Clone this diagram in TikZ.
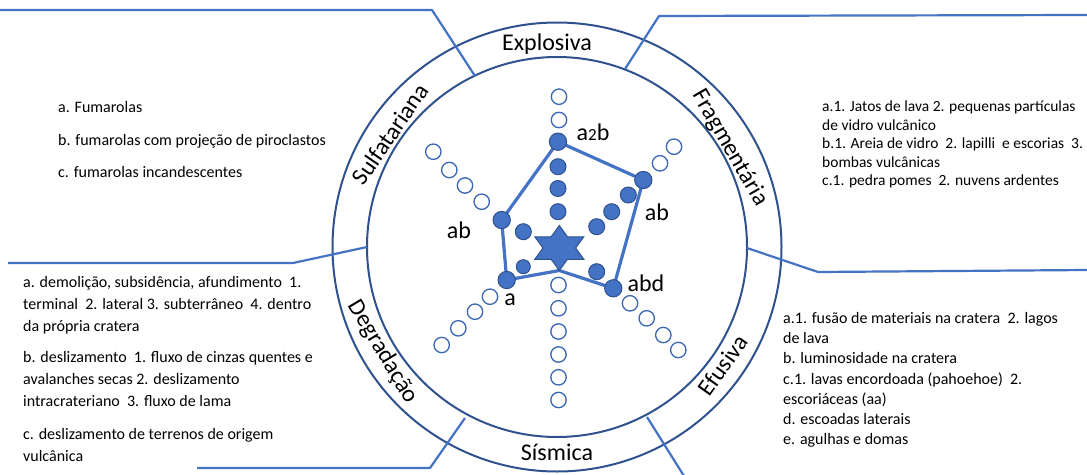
\documentclass[tikz,border=0pt]{standalone}
\usepackage{fontspec}
\setmainfont{Carlito}
\definecolor{ringblue}{HTML}{2F528F}
\definecolor{accent}{HTML}{4472C4}
\definecolor{hollowline}{HTML}{3A66B4}
\begin{document}
\begin{tikzpicture}[x=1pt,y=-1pt,
  ring/.style={draw=ringblue, line width=2pt},
  divider/.style={draw=accent, line width=2.2pt, line join=round},
  ringlabel/.style={font=\fontsize{24}{24}\selectfont, inner sep=0pt},
  ptlabel/.style={font=\fontsize{24}{24}\selectfont, inner sep=0pt},
  txt/.style={font=\fontsize{16}{20}\selectfont, inner sep=0pt, anchor=base west},
  txtr/.style={font=\fontsize{15.5}{20}\selectfont, inner sep=0pt, anchor=base west},
  vtx/.style={circle, fill=accent, draw=ringblue, line width=1pt, minimum size=17.3pt, inner sep=0pt},
  fdot/.style={circle, fill=accent, draw=ringblue, line width=1pt, minimum size=16pt, inner sep=0pt},
  hdot/.style={circle, fill=white, draw=hollowline, line width=1.3pt, minimum size=15.4pt, inner sep=0pt},
  poly/.style={draw=accent, line width=3.2pt, line join=round}
]
\useasboundingbox (0,0) rectangle (1087,474);

% ---------------- ring ----------------
\coordinate (c) at (557,247);
\draw[ring] (c) circle[radius=224.5pt];
\draw[ring] (c) circle[radius=190pt];

% ---------------- dividers / leader lines ----------------
\coordinate (d1a) at (475,76);  \coordinate (d1b) at (432,10);  \coordinate (d1c) at (0,10);
\coordinate (d2a) at (625,69);  \coordinate (d2b) at (659,16);  \coordinate (d2c) at (1087,15);
\coordinate (d3a) at (747,248); \coordinate (d3b) at (818,272); \coordinate (d3c) at (1087,270);
\coordinate (d4a) at (647,417); \coordinate (d4b) at (684,476);
\coordinate (d5a) at (465,418); \coordinate (d5b) at (430,468); \coordinate (d5c) at (197,468);
\coordinate (d6a) at (367,247); \coordinate (d6b) at (293,263); \coordinate (d6c) at (8,263);
\draw[divider] (d1a) -- (d1b) -- (d1c);
\draw[divider] (d2a) -- (d2b) -- (d2c);
\draw[divider] (d3a) -- (d3b) -- (d3c);
\draw[divider] (d4a) -- (d4b);
\draw[divider] (d5a) -- (d5b) -- (d5c);
\draw[divider] (d6a) -- (d6b) -- (d6c);

% ---------------- ring labels ----------------
\node[ringlabel] (explosiva) at (547,44) {Explosiva};
\node[ringlabel] (sismica) at (557,452) {Sísmica};
\node[ringlabel, rotate=55.5] (sulfatariana) at (390,134) {Sulfatariana};
\node[ringlabel, rotate=-60] (fragmentaria) at (730,148) {Fragmentária};
\node[ringlabel, rotate=-59] (degradacao) at (383,352) {Degradação};
\node[ringlabel, rotate=54.5] (efusiva) at (723,365) {Efusiva};

% ---------------- profile polygon ----------------
\coordinate (star) at (559.3,248);
\coordinate (starbot) at (559.3,270.5);
\coordinate (p1) at (558,141.7);
\coordinate (p2) at (643.3,180);
\coordinate (p3) at (613.3,288.3);
\coordinate (p4) at (506.7,280);
\coordinate (p5) at (501.7,220);
\draw[poly] (p1) -- (p2) -- (p3) -- (starbot) -- (p4) -- (p5) -- cycle;

% ---------------- central star ----------------
\filldraw[fill=accent, draw=ringblue, line width=1pt, line join=miter, shift={(star)}]
  (0,-22.5) -- (-8.17,-11.25) -- (-24.51,-11.25) -- (-16.34,0) -- (-24.51,11.25)
  -- (-8.17,11.25) -- (0,22.5) -- (8.17,11.25) -- (24.51,11.25) -- (16.34,0)
  -- (24.51,-11.25) -- (8.17,-11.25) -- cycle;

% ---------------- axes of dots ----------------
% up
\node[hdot] (u1) at (559,96.7) {};
\node[hdot] (u2) at (559,120) {};
\node[fdot] (u4) at (558,166.7) {};
\node[fdot] (u5) at (558,188.5) {};
\node[fdot] (u6) at (558,211.7) {};
% down
\foreach \y [count=\i] in {285,308.3,331.5,354.5,377.3,400}
  \node[hdot] (dn\i) at (558.5,\y) {};
% upper left
\node[hdot] (ul1) at (433.3,151.7) {};
\node[hdot] (ul2) at (449.3,170) {};
\node[hdot] (ul3) at (465,185.5) {};
\node[hdot] (ul4) at (481.7,201.7) {};
\node[fdot] (ul6) at (523.3,231.7) {};
% upper right
\node[hdot] (ur1) at (674,146.7) {};
\node[hdot] (ur2) at (660,163.3) {};
\node[fdot] (ur4) at (628.3,195) {};
\node[fdot] (ur5) at (611.7,211.7) {};
\node[fdot] (ur6) at (596.7,226.7) {};
% lower left
\node[fdot, minimum size=14pt] (ll1) at (523.3,266.7) {};
\node[hdot] (ll3) at (490,296.7) {};
\node[hdot] (ll4) at (475,311.7) {};
\node[hdot] (ll5) at (458.3,328.3) {};
\node[hdot] (ll6) at (441.7,345) {};
% lower right
\node[fdot] (lr1) at (596.7,271.7) {};
\node[hdot] (lr3) at (630,303.3) {};
\node[hdot] (lr4) at (646.7,318.3) {};
\node[hdot] (lr5) at (663.3,335) {};
\node[hdot] (lr6) at (678.3,350) {};
% profile vertices
\node[vtx] (v1) at (p1) {};
\node[vtx] (v2) at (p2) {};
\node[vtx] (v3) at (p3) {};
\node[vtx] (v4) at (p4) {};
\node[vtx] (v5) at (p5) {};

% ---------------- vertex labels ----------------
\node[ptlabel] (l1) at (593,132) {a{\fontsize{17}{17}\selectfont 2}b};
\node[ptlabel] (l2) at (657,212) {ab};
\node[ptlabel] (l3) at (459,230) {ab};
\node[ptlabel] (l4) at (510,300) {a};
\node[ptlabel] (l5) at (646,283) {abd};

% ---------------- description texts ----------------
% Sulfatariana
\node[txt] (s1) at (58,112.5) {a. Fumarolas};
\node[txt] (s2) at (58,145.5) {b. fumarolas com projeção de piroclastos};
\node[txt] (s3) at (58,177.5) {c. fumarolas incandescentes};
% Degradação
\node[txt] (g1) at (23,287.5) {a. demolição, subsidência, afundimento\ \ 1.};
\node[txt] (g2) at (23,309.5) {terminal\ \ 2. lateral 3. subterrâneo\ \ 4. dentro};
\node[txt] (g3) at (23,331.5) {da própria cratera};
\node[txt] (g4) at (23,362.5) {b. deslizamento\ \ 1. fluxo de cinzas quentes e};
\node[txt] (g5) at (23,384.5) {avalanches secas 2. deslizamento};
\node[txt] (g6) at (23,406.5) {intracrateriano\ \ 3. fluxo de lama};
\node[txt] (g7) at (23,439.5) {c. deslizamento de terrenos de origem};
\node[txt] (g8) at (23,461.5) {vulcânica};
% Fragmentária
\node[txtr] (f1) at (822,111.5) {a.1. Jatos de lava 2. pequenas partículas};
\node[txtr] (f2) at (822,130) {de vidro vulcânico};
\node[txtr] (f3) at (822,148.5) {b.1. Areia de vidro\ \ 2. lapilli\ \ e escorias\ \ 3.};
\node[txtr] (f4) at (822,167) {bombas vulcânicas};
\node[txtr] (f5) at (822,185.5) {c.1. pedra pomes\ \ 2. nuvens ardentes};
% Efusiva
\node[txt] (e1) at (783,323.5) {a.1. fusão de materiais na cratera\ \ 2. lagos};
\node[txt] (e2) at (783,343.7) {de lava};
\node[txt] (e3) at (783,363.9) {b. luminosidade na cratera};
\node[txt] (e4) at (783,384.1) {c.1. lavas encordoada (pahoehoe)\ \ 2.};
\node[txt] (e5) at (783,404.3) {escoriáceas (aa)};
\node[txt] (e6) at (783,424.5) {d. escoadas laterais};
\node[txt] (e7) at (783,444.7) {e. agulhas e domas};
\end{tikzpicture}
\end{document}
